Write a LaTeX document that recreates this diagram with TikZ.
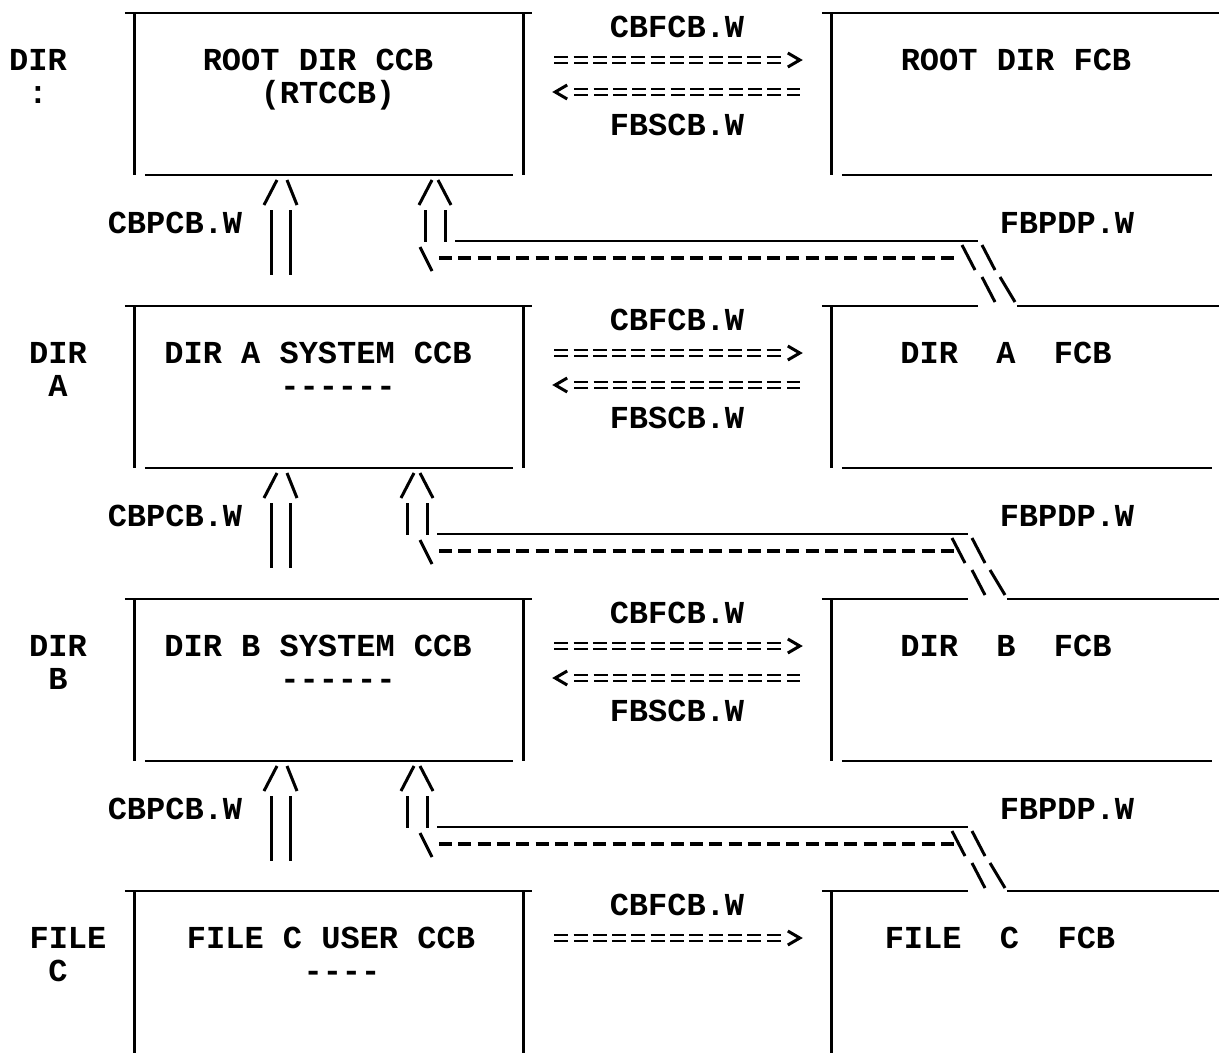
\documentclass[tikz,border=0pt]{standalone}
\usepackage{fontspec}
\setmonofont{Liberation Mono}
\usetikzlibrary{calc}

\tikzset{
  boxarea/.style={rectangle, inner sep=0pt, minimum height=162pt},
  txt/.style={font=\ttfamily\bfseries\fontsize{32}{38}\selectfont, inner sep=0pt, anchor=base},
  hline/.style={line width=2.2pt},
  vline/.style={line width=3pt},
  stroke/.style={line width=3pt},
  thinline/.style={line width=1.8pt},
  eqline/.style={double, double distance=3.6pt, line width=2.4pt, dash pattern=on 14pt off 5.3pt},
  chev/.style={line width=3pt, line join=miter},
  dashline/.style={line width=3.2pt, dash pattern=on 13pt off 6.3pt}
}

\begin{document}
\begin{tikzpicture}[x=1pt, y=-1pt, line cap=butt]
	\useasboundingbox (0,0) rectangle (1219,1053);

	% the four levels: CCB on the left, FCB on the right
	\foreach \t/\yo/\sa/\sb/\sx/\sbx/\ctxt/\cx/\csub/\csx/\ftxt/\fx in {
		1/0/DIR/:/38/38/ROOT DIR CCB/318/(RTCCB)/328/ROOT DIR FCB/1016,
		2/293/DIR/A/58/58/DIR A SYSTEM CCB/318/------/338/DIR~~A~~FCB/1006,
		3/586/DIR/B/58/58/DIR B SYSTEM CCB/318/------/338/DIR~~B~~FCB/1006,
		4/878/FILE/C/68/58/FILE C USER CCB/331/----/342/FILE~~C~~FCB/1000} {
		\begin{scope}[yshift=-\yo pt]
			\node[boxarea, minimum width=388pt] (ccb\t) at (329,94) {};
			\node[boxarea, minimum width=387pt] (fcb\t) at (1025.5,94) {};

			\draw[hline] ([xshift=-10pt]ccb\t.north west) -- ([xshift=9pt]ccb\t.north east);
			\draw[vline] (ccb\t.north west) -- (ccb\t.south west);
			\draw[vline] (ccb\t.north east) -- (ccb\t.south east);
			\draw[vline] (fcb\t.north west) -- (fcb\t.south west);
			\ifnum\t=1
				\draw[hline] ([xshift=-10pt]fcb\t.north west) -- (fcb\t.north east);
			\fi
			\ifnum\t<4
				\draw[hline] ([xshift=10pt]ccb\t.south west) -- ([xshift=-10pt]ccb\t.south east);
				\draw[hline] ([xshift=10pt]fcb\t.south west) -- ([xshift=-7pt]fcb\t.south east);
			\fi

			\node[txt] (side\t) at (\sx,70) {\sa};
			\node[txt] (sideb\t) at (\sbx,103) {\sb};
			\node[txt] (ccbt\t) at (\cx,70) {\ctxt};
			\node[txt] (ccbs\t) at (\csx,103) {\csub};
			\node[txt] (fcbt\t) at (\fx,70) {\ftxt};
			\node[txt] (cbf\t) at (677,37) {CBFCB.W};

			% CCB ==> FCB
			\coordinate (ra\t) at ([xshift=-32pt,yshift=34pt]fcb\t.west);
			\draw[eqline] ([xshift=31pt,yshift=34pt]ccb\t.east) -- ([xshift=-19pt]ra\t);
			\draw[chev] ([xshift=-12pt,yshift=7pt]ra\t) -- (ra\t) -- ([xshift=-12pt,yshift=-7pt]ra\t);

			% FCB ==> CCB
			\ifnum\t<4
				\coordinate (la\t) at ([xshift=32pt,yshift=2pt]ccb\t.east);
				\draw[eqline] ([xshift=19pt]la\t) -- ([xshift=-32pt,yshift=2pt]fcb\t.west);
				\draw[chev] ([xshift=12pt,yshift=7pt]la\t) -- (la\t) -- ([xshift=12pt,yshift=-7pt]la\t);
				\node[txt] (fbs\t) at (677,135) {FBSCB.W};
			\fi
		\end{scope}
	}

	% links from each level up to the one above
	\foreach \t/\yo/\rs/\ds in {1/0/0/0, 2/293/-18/-10, 3/586/-18/-10} {
		\pgfmathtruncatemacro\n{\t+1}
		\pgfmathsetmacro\ga{146+\ds}
		\pgfmathsetmacro\gb{185+\ds}
		\draw[hline] ([xshift=-10pt]fcb\n.north west) -- ([xshift=\ga pt]fcb\n.north west);
		\draw[hline] ([xshift=\gb pt]fcb\n.north west) -- (fcb\n.north east);
		\begin{scope}[yshift=-\yo pt]
			\draw[stroke] (264,205) -- (277,180);
			\draw[stroke] (287,180) -- (297,205);
			\draw[stroke] (271,210) -- (271,275);
			\draw[stroke] (290,210) -- (290,275);
			\node[txt] (cbp\t) at (175,233) {CBPCB.W};

			\begin{scope}[xshift=\rs pt]
				\draw[stroke] (419,205) -- (432,180);
				\draw[stroke] (438,180) -- (451,205);
				\draw[stroke] (425,210) -- (425,242);
				\draw[stroke] (445,210) -- (445,242);
			\end{scope}
			\draw[thinline] ({455+\rs},241) -- ({978+\ds},241);
			\draw[stroke] (420,247) -- (432,271);
			\draw[dashline] (439,258) -- (954,258);

			\begin{scope}[xshift=\ds pt]
				\draw[stroke] (962,245) -- (975,270);
				\draw[stroke] (982,245) -- (995,270);
				\draw[stroke] (982,277) -- (995,302);
				\draw[stroke] (1000,277) -- (1015,302);
			\end{scope}
			\node[txt] (fbp\t) at (1067,233) {FBPDP.W};
		\end{scope}
	}

\end{tikzpicture}
\end{document}
